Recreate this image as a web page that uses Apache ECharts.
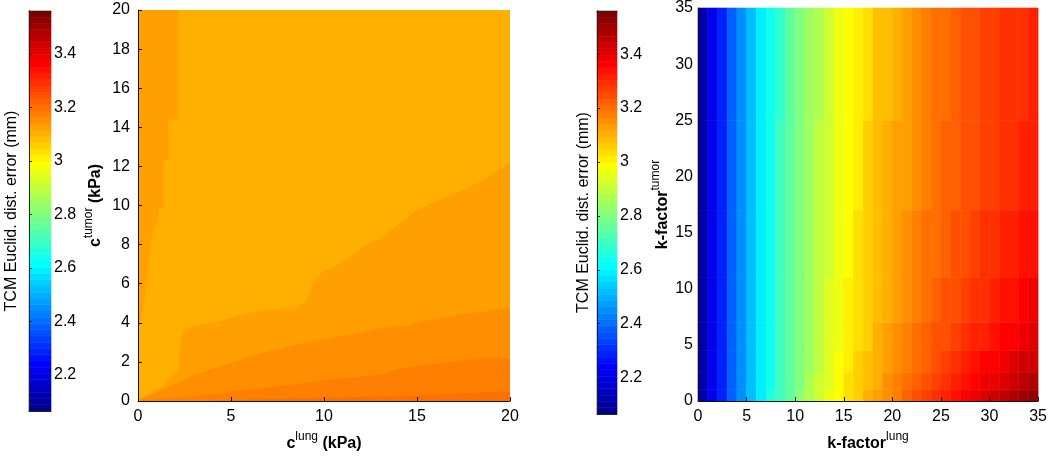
<!DOCTYPE html>
<html>
<head>
<meta charset="utf-8">
<script src="https://cdn.jsdelivr.net/npm/echarts@6/dist/echarts.min.js"></script>
<style>
  html, body { margin: 0; padding: 0; background: #fff; }
  #main { width: 1050px; height: 457px; }
</style>
</head>
<body>
<div id="main"></div>
<script>
// colour scale (mm)
const cMin = 2.065, cMax = 3.56;
const cbTicks = [2.2, 2.4, 2.6, 2.8, 3, 3.2, 3.4];

// left panel: contour levels (mm) and level boundaries [c_lung, c_tumor] (kPa)
const levelA = 3.105, levelB = 3.128, levelC = 3.152, levelD = 3.175, levelE = 3.198;
const edgeA = [[0, 20], [20, 20]];
const edgeBStrip = [[0, 3.7], [0.07, 3.9], [0.2, 4.5], [0.38, 5.3], [0.56, 7.0], [0.73, 8.4], [0.91, 8.9],
  [1.18, 9.9], [1.36, 9.9], [1.36, 12.3], [1.63, 12.3], [1.63, 14.4], [2.17, 14.4], [2.17, 20]];
const edgeBLow = [[0, 0], [0.47, 0.27], [1.35, 0.77], [1.9, 1.36], [2.17, 1.53], [2.26, 2.87], [2.44, 3.63],
  [3.15, 3.88], [4.23, 4.05], [5.5, 4.38], [6.2, 4.55], [8.5, 4.8], [9.07, 5.05], [9.4, 6.06], [9.95, 6.6],
  [11.0, 7.07], [12.1, 7.9], [13.0, 8.3], [15.0, 9.77], [17.5, 10.8], [18.4, 11.2], [20, 12.2]];
const edgeC = [[0, 0.05], [1.0, 0.45], [2.17, 0.96], [3.15, 1.38], [4.76, 1.88], [6.7, 2.47], [8.9, 2.97],
  [10.3, 3.2], [12.1, 3.56], [13.0, 3.73], [14.35, 3.88], [15.6, 4.13], [17.6, 4.47], [19.5, 4.69], [20, 4.72]];
const edgeD = [[0, 0], [3.15, 0.28], [4.9, 0.45], [8.5, 0.87], [11.2, 1.2], [13.0, 1.36], [14.1, 1.66],
  [16.0, 1.91], [18.2, 2.17], [20, 2.2]];
const edgeE = [[3.5, 0], [6, 0.08], [9, 0.15], [12, 0.22], [15, 0.3], [17.5, 0.4], [20, 0.5]];

// right panel: one value (mm) per unit of k-factor lung, rows are bands of k-factor tumor
const kRowEdges = [0, 1, 2.5, 4.5, 7, 11, 17, 25, 35];
const kRow0 = [2.114,2.209,2.296,2.377,2.450,2.520,2.587,2.649,2.709,2.765,2.817,2.868,2.914,2.956,2.995,3.031,3.064,3.094,3.124,3.153,3.184,3.212,3.240,3.268,3.293,3.317,3.339,3.361,3.385,3.406,3.427,3.449,3.472,3.497,3.522];
const kRow1 = [2.114,2.209,2.296,2.377,2.450,2.520,2.586,2.647,2.706,2.761,2.812,2.862,2.907,2.949,2.987,3.023,3.055,3.084,3.113,3.141,3.170,3.196,3.223,3.249,3.272,3.295,3.315,3.335,3.357,3.377,3.396,3.416,3.436,3.458,3.480];
const kRow2 = [2.114,2.209,2.296,2.377,2.450,2.519,2.585,2.646,2.704,2.758,2.808,2.857,2.901,2.942,2.980,3.015,3.047,3.075,3.103,3.130,3.157,3.182,3.207,3.232,3.253,3.274,3.293,3.312,3.333,3.350,3.367,3.386,3.404,3.423,3.442];
const kRow3 = [2.114,2.209,2.296,2.377,2.450,2.519,2.584,2.644,2.701,2.755,2.804,2.852,2.896,2.936,2.974,3.008,3.039,3.067,3.094,3.119,3.146,3.169,3.193,3.215,3.236,3.255,3.273,3.291,3.309,3.325,3.341,3.357,3.373,3.390,3.407];
const kRow4 = [2.114,2.209,2.296,2.377,2.450,2.519,2.583,2.643,2.699,2.752,2.801,2.848,2.891,2.931,2.968,3.002,3.032,3.060,3.086,3.110,3.135,3.157,3.180,3.201,3.220,3.239,3.255,3.271,3.288,3.303,3.317,3.332,3.346,3.361,3.375];
const kRow5 = [2.114,2.209,2.296,2.377,2.450,2.518,2.582,2.641,2.697,2.749,2.798,2.844,2.886,2.926,2.962,2.996,3.025,3.053,3.079,3.102,3.125,3.146,3.168,3.187,3.206,3.223,3.238,3.253,3.269,3.283,3.295,3.309,3.321,3.334,3.346];
const kRow6 = [2.114,2.209,2.296,2.377,2.450,2.518,2.581,2.641,2.696,2.747,2.795,2.841,2.883,2.922,2.958,2.992,3.021,3.048,3.073,3.096,3.118,3.139,3.159,3.178,3.195,3.212,3.226,3.241,3.255,3.268,3.279,3.292,3.303,3.315,3.325];
const kRow7 = [2.114,2.209,2.296,2.377,2.450,2.518,2.581,2.640,2.695,2.746,2.794,2.839,2.881,2.920,2.956,2.989,3.018,3.045,3.070,3.092,3.114,3.134,3.154,3.172,3.189,3.205,3.219,3.233,3.247,3.259,3.270,3.282,3.292,3.303,3.312];
const kRows = [kRow0, kRow1, kRow2, kRow3, kRow4, kRow5, kRow6, kRow7];

// MATLAB jet(64)
const nColors = 64;
const jetColors = (function () {
  const q = nColors / 4;
  const u = [];
  for (let i = 1; i <= q; i++) u.push(i / q);
  for (let i = 1; i < q; i++) u.push(1);
  for (let i = q; i >= 1; i--) u.push(i / q);
  const R = new Array(nColors).fill(0), G = new Array(nColors).fill(0), B = new Array(nColors).fill(0);
  const g0 = Math.ceil(q / 2);
  for (let j = 0; j < u.length; j++) {
    const gi = g0 + j, ri = gi + q, bi = gi - q;
    if (gi < nColors) G[gi] = u[j];
    if (ri < nColors) R[ri] = u[j];
    if (bi >= 0) B[bi] = u[j];
  }
  const out = [];
  for (let k = 0; k < nColors; k++) {
    out.push('rgb(' + Math.round(R[k] * 255) + ',' + Math.round(G[k] * 255) + ',' + Math.round(B[k] * 255) + ')');
  }
  return out;
})();
function jet(v) {
  let k = Math.floor((v - cMin) / (cMax - cMin) * nColors);
  k = Math.max(0, Math.min(nColors - 1, k));
  return jetColors[k];
}

// colour bar bins
const cbData = [];
for (let k = 0; k < nColors; k++) {
  const lo = cMin + (cMax - cMin) * k / nColors;
  const hi = cMin + (cMax - cMin) * (k + 1) / nColors;
  cbData.push([0, 1, lo, hi, (lo + hi) / 2]);
}

// right panel cells
const kData = [];
kRows.forEach(function (row, r) {
  row.forEach(function (v, j) {
    kData.push([j, j + 1, kRowEdges[r], kRowEdges[r + 1], v]);
  });
});

function renderCell(params, api) {
  const a = api.coord([api.value(0), api.value(3)]);
  const b = api.coord([api.value(1), api.value(2)]);
  const c = jet(api.value(4));
  return {
    type: 'rect',
    shape: { x: a[0], y: a[1], width: b[0] - a[0], height: b[1] - a[1] },
    style: { fill: c, stroke: c, lineWidth: 0.6 }
  };
}

const FONT = 'Liberation Sans, Arial, sans-serif';
const nameRich = {
  b: { fontSize: 16, fontWeight: 'bold', color: '#000', lineHeight: 21, verticalAlign: 'bottom', fontFamily: FONT },
  s: { fontSize: 12, color: '#000', lineHeight: 12, verticalAlign: 'top', fontFamily: FONT }
};
const labelStyle = { fontSize: 16, color: '#000', fontFamily: FONT };

function frameAxis(grid, pos) {
  return {
    type: 'value', gridIndex: grid, position: pos, min: 0, max: 1, z: 10,
    axisLine: { show: true, lineStyle: { color: '#222', width: 1 } },
    axisTick: { show: false }, axisLabel: { show: false }, splitLine: { show: false }
  };
}
function cbValueAxis(grid) {
  return {
    type: 'value', gridIndex: grid, position: 'right', min: cMin, max: cMax, z: 10,
    axisLine: { show: true, lineStyle: { color: '#222', width: 1 } },
    axisTick: { show: true, length: 3, customValues: cbTicks, lineStyle: { color: '#222' } },
    axisLabel: { show: true, customValues: cbTicks, margin: 3, ...labelStyle },
    splitLine: { show: false }
  };
}
function cbNameAxis(grid, gap) {
  return {
    type: 'value', gridIndex: grid, position: 'left', min: cMin, max: cMax, z: 10,
    name: 'TCM Euclid. dist. error (mm)', nameLocation: 'middle', nameRotate: 90, nameGap: gap,
    nameTextStyle: { fontSize: 16, color: '#000', fontFamily: FONT },
    axisLine: { show: true, lineStyle: { color: '#222', width: 1 } },
    axisTick: { show: false }, axisLabel: { show: false }, splitLine: { show: false }
  };
}
function plotAxis(grid, pos, max, interval, name, gap, margin) {
  return {
    type: 'value', gridIndex: grid, position: pos, min: 0, max: max, interval: interval, z: 10,
    name: name, nameLocation: 'middle', nameGap: gap, nameRotate: pos === 'left' ? 90 : 0,
    nameTextStyle: { rich: nameRich },
    axisLine: { show: true, lineStyle: { color: '#111', width: 1 } },
    axisTick: { show: true, inside: true, length: 4, lineStyle: { color: '#111' } },
    axisLabel: { margin: margin, ...labelStyle },
    splitLine: { show: false }
  };
}
function areaSeries(edge, level, origin) {
  return {
    type: 'line', xAxisIndex: 2, yAxisIndex: 2, data: edge, symbol: 'none', silent: true,
    lineStyle: { width: 0 }, areaStyle: { color: jet(level), opacity: 1, origin: origin }
  };
}

const chart = echarts.init(document.getElementById('main'));
chart.setOption({
  animation: false,
  textStyle: { fontFamily: FONT },
  grid: [
    { left: 29, top: 11, width: 22, height: 400 },
    { left: 138, top: 10, width: 372, height: 397 },
    { left: 597, top: 11, width: 20, height: 403 },
    { left: 698, top: 5, width: 345, height: 402 }
  ],
  xAxis: [
    frameAxis(0, 'bottom'),
    frameAxis(0, 'top'),
    plotAxis(1, 'bottom', 20, 5, '{b|c}{s|lung}{b| (kPa)}', 30, 8),
    frameAxis(2, 'bottom'),
    frameAxis(2, 'top'),
    plotAxis(3, 'bottom', 35, 5, '{b|k-factor}{s|lung}', 30, 8)
  ],
  yAxis: [
    cbValueAxis(0),
    cbNameAxis(0, 9),
    plotAxis(1, 'left', 20, 2, '{b|c}{s|tumor}{b| (kPa)}', 34, 8),
    cbValueAxis(2),
    cbNameAxis(2, 5),
    plotAxis(3, 'left', 35, 5, '{b|k-factor}{s|tumor}', 27, 5)
  ],
  series: [
    { type: 'custom', xAxisIndex: 0, yAxisIndex: 0, data: cbData, renderItem: renderCell, silent: true,
      encode: { x: [0, 1], y: [2, 3] } },
    areaSeries(edgeA, levelA, 'start'),
    areaSeries(edgeBStrip, levelB, 'end'),
    areaSeries(edgeBLow, levelB, 'start'),
    areaSeries(edgeC, levelC, 'start'),
    areaSeries(edgeD, levelD, 'start'),
    areaSeries(edgeE, levelE, 'start'),
    { type: 'custom', xAxisIndex: 3, yAxisIndex: 3, data: cbData, renderItem: renderCell, silent: true,
      encode: { x: [0, 1], y: [2, 3] } },
    { type: 'custom', xAxisIndex: 5, yAxisIndex: 5, data: kData, renderItem: renderCell, silent: true,
      encode: { x: [0, 1], y: [2, 3] } }
  ]
});
window.addEventListener('resize', function () { chart.resize(); });
</script>
</body>
</html>
